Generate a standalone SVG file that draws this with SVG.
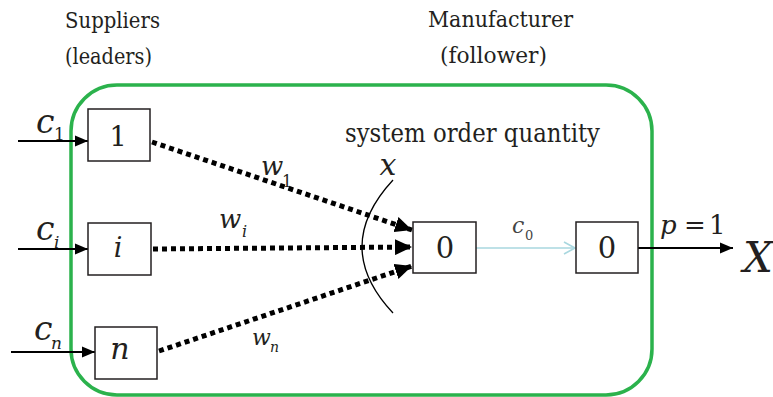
<svg xmlns="http://www.w3.org/2000/svg" width="773" height="397" viewBox="0 0 773 397">
<style>
text{font-family:"DejaVu Serif","Liberation Serif",serif;fill:#231f20}
.it{font-style:italic}
.box{fill:#fff;stroke:#231f20;stroke-width:1.5}
.dot{stroke:#000;stroke-width:5;stroke-dasharray:5 4;fill:none}
.thin{stroke:#000;stroke-width:1.8;fill:none}
</style>
<defs>
<marker id="big" markerUnits="userSpaceOnUse" markerWidth="18" markerHeight="16" refX="17" refY="8" orient="auto"><path d="M0,0 L17,8 L0,16 z" fill="#000"/></marker>
<marker id="small" markerUnits="userSpaceOnUse" markerWidth="14" markerHeight="12" refX="13" refY="6" orient="auto"><path d="M0,0.5 L13,6 L0,11.5 z" fill="#000"/></marker>
<marker id="open" markerUnits="userSpaceOnUse" markerWidth="14" markerHeight="14" refX="12" refY="7" orient="auto"><path d="M1,1 L12,7 L1,13" fill="none" stroke="#a9d7df" stroke-width="1.6"/></marker>
</defs>
<g id="headers">
<text x="65" y="28" font-size="22" textLength="95" lengthAdjust="spacingAndGlyphs">Suppliers</text>
<text x="65" y="64" font-size="22" textLength="87" lengthAdjust="spacingAndGlyphs">(leaders)</text>
<text x="428" y="27" font-size="22" textLength="145" lengthAdjust="spacingAndGlyphs">Manufacturer</text>
<text x="440" y="63" font-size="22" textLength="107" lengthAdjust="spacingAndGlyphs">(follower)</text>
</g>
<g id="boundary"><rect x="71" y="85" width="581" height="310" rx="46" ry="46" fill="none" stroke="#2bb24c" stroke-width="3.5"/></g>
<g id="connectors">
<line class="thin" x1="18" y1="141" x2="88" y2="141" marker-end="url(#small)"/>
<line class="thin" x1="18" y1="249" x2="88" y2="249" marker-end="url(#small)"/>
<line class="thin" x1="11" y1="352" x2="95" y2="352" marker-end="url(#small)"/>
<line class="dot" x1="152" y1="142" x2="412" y2="230" marker-end="url(#big)"/>
<line class="dot" x1="153" y1="249" x2="412" y2="247" marker-end="url(#big)"/>
<line class="dot" x1="159" y1="351" x2="412" y2="266" marker-end="url(#big)"/>
<line x1="476" y1="248" x2="575" y2="248" stroke="#a9d7df" stroke-width="1.6" marker-end="url(#open)"/>
<line class="thin" x1="638" y1="248" x2="733" y2="248" marker-end="url(#small)"/>
<path d="M393,180 Q331,247 393,313" fill="none" stroke="#000" stroke-width="1.3"/>
</g>
<g id="node-s1"><rect class="box" x="88" y="109" width="62" height="52"/><text x="118" y="146" font-size="27" text-anchor="middle">1</text></g>
<g id="node-si"><rect class="box" x="88" y="223" width="63" height="52"/><text class="it" x="118" y="257" font-size="27" text-anchor="middle">i</text></g>
<g id="node-sn"><rect class="box" x="95" y="327" width="62" height="52"/><text class="it" x="120" y="359" font-size="30" text-anchor="middle">n</text></g>
<g id="node-m0"><rect class="box" x="413" y="222" width="63" height="51"/><text x="445" y="258" font-size="29" text-anchor="middle">0</text></g>
<g id="node-m1"><rect class="box" x="576" y="222" width="62" height="51"/><text x="607" y="258" font-size="29" text-anchor="middle">0</text></g>
<g id="labels">
<text class="it" x="36" y="133" font-size="33">c</text><text x="54" y="140" font-size="17">1</text>
<text class="it" x="36" y="240" font-size="33">c</text><text class="it" x="54" y="248" font-size="17">i</text>
<text class="it" x="34" y="340" font-size="33">c</text><text class="it" x="51" y="349" font-size="17">n</text>
<text class="it" x="261" y="175" font-size="26">w</text><text x="282" y="187" font-size="16">1</text>
<text class="it" x="219" y="228" font-size="26">w</text><text class="it" x="242" y="237" font-size="16">i</text>
<text class="it" x="252" y="345" font-size="22">w</text><text class="it" x="270" y="352" font-size="14">n</text>
<text class="it" x="512" y="233" font-size="22" style="fill:#444">c</text><text x="525" y="240" font-size="13" style="fill:#444">0</text>
<text x="345" y="142" font-size="26" textLength="255" lengthAdjust="spacingAndGlyphs">system order quantity</text>
<text class="it" x="388" y="175" font-size="30" text-anchor="middle">x</text>
<text x="660" y="234" font-size="26"><tspan class="it">p</tspan><tspan x="684">=</tspan><tspan x="709">1</tspan></text>
<text class="it" x="743" y="272" font-size="42">X</text>
</g>
</svg>
